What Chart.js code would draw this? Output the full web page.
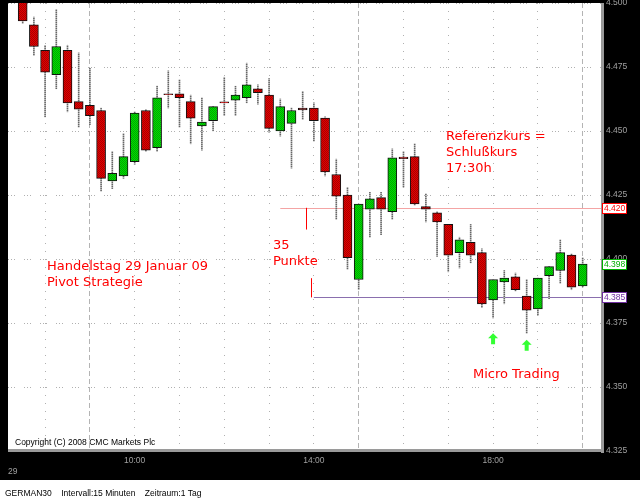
<!DOCTYPE html>
<html>
<head>
<meta charset="utf-8">
<script src="https://cdn.jsdelivr.net/npm/chart.js@4/dist/chart.umd.min.js"></script>
<style>
  html, body { margin: 0; padding: 0; background: #000; }
  canvas { display: block; }
</style>
</head>
<body>
<canvas id="dax" width="640" height="500"></canvas>
<script>
// GERMAN30, 15 minute candles, 29 Jan 2009
const times = ['07:30','07:45','08:00','08:15','08:30','08:45','09:00','09:15','09:30','09:45',
  '10:00','10:15','10:30','10:45','11:00','11:15','11:30','11:45','12:00','12:15',
  '12:30','12:45','13:00','13:15','13:30','13:45','14:00','14:15','14:30','14:45',
  '15:00','15:15','15:30','15:45','16:00','16:15','16:30','16:45','17:00','17:15',
  '17:30','17:45','18:00','18:15','18:30','18:45','19:00','19:15','19:30','19:45','20:00'];

const opens = [4503, 4491.5, 4481.5, 4472, 4481.5, 4461.5, 4460, 4458, 4430.5, 4432.5,
  4438, 4458, 4443.5, 4464.5, 4464.5, 4461.5, 4452, 4454, 4461.4, 4462,
  4463, 4466.5, 4464, 4450, 4453, 4459, 4459, 4455, 4433, 4425,
  4392, 4419.5, 4424, 4418.5, 4439.8, 4440, 4420.5, 4418, 4413.5, 4402.5,
  4406.5, 4402.5, 4384, 4391, 4393, 4385.5, 4380.5, 4393.5, 4395.5, 4401.5, 4389.5];
const highs = [4505, 4494.5, 4483.5, 4497.5, 4483.5, 4480.5, 4474.5, 4459, 4442, 4449,
  4457.5, 4458.5, 4467.5, 4473.5, 4470, 4464, 4463, 4459.5, 4471, 4467.5,
  4476.5, 4468, 4470.5, 4462.5, 4459, 4465.5, 4461, 4455.5, 4439, 4428,
  4421.5, 4426, 4426, 4443, 4442, 4445, 4425.5, 4418.5, 4413.5, 4408.5,
  4413.5, 4404, 4392, 4395.5, 4394.5, 4392, 4392.5, 4397, 4407.5, 4402, 4400.5];
const lows = [4492, 4479.5, 4455.5, 4466.5, 4457.5, 4451.5, 4452.5, 4426.5, 4427.5, 4431.5,
  4437, 4442, 4442, 4459, 4451.5, 4445, 4442.5, 4450, 4456, 4456,
  4461, 4460.5, 4449.5, 4448, 4435.5, 4454.5, 4446, 4432.5, 4415.5, 4396,
  4388, 4408.5, 4409.5, 4415.5, 4428, 4421, 4414.5, 4401, 4395, 4396.5,
  4398.5, 4381, 4377, 4382.5, 4387.5, 4371, 4378, 4384.5, 4390.5, 4388, 4389];
const closes = [4493, 4483, 4473, 4483, 4461, 4458.5, 4456, 4431.5, 4433.5, 4440,
  4457, 4442.5, 4463, 4464.2, 4463, 4455, 4453.5, 4459.5, 4461, 4464,
  4468, 4465, 4451, 4459.5, 4458, 4458.2, 4454, 4434, 4424.5, 4400.5,
  4421.5, 4423.5, 4419.5, 4439.5, 4439.2, 4421.5, 4419.5, 4414.5, 4401.5, 4407.5,
  4401.5, 4382.5, 4392, 4392.5, 4388, 4380, 4392.5, 4397, 4402.5, 4389, 4398];

const priceTicks = [4325, 4350, 4375, 4400, 4425, 4450, 4475, 4500];
const timeLabels = ['10:00', '14:00', '18:00'];
const sessionLines = ['09:00', '15:00', '20:00'];

// levels: Referenzkurs, last price, pivot
const refLevel = 4420, lastLevel = 4398, pivotLevel = 4385;
const refStart = '13:15', pivotStart = '14:00';
const arrowTimes = ['18:00', '18:45'];
const arrowTips = [4371, 4368.5];

function hour(t) {
  const p = t.split(':');
  return +p[0] + p[1] / 60;
}
function fmt(v) {
  return (v / 1000).toFixed(3);
}

const canvas = document.getElementById('dax');
const c2d = canvas.getContext('2d');

function hatch(a, b, w, h) {
  const c = document.createElement('canvas');
  c.width = w; c.height = h;
  const g = c.getContext('2d');
  g.fillStyle = a; g.fillRect(0, 0, w, h);
  g.fillStyle = b;
  if (w === 2) { g.fillRect(0, 0, 1, 1); g.fillRect(1, 1, 1, 1); }
  else g.fillRect(0, 1, 1, 1);
  return c2d.createPattern(c, 'repeat');
}
const redFill = hatch('#e40000', '#a80000', 2, 2);
const greenFill = hatch('#00e000', '#00a400', 2, 2);
const wickFill = hatch('#666666', '#b0b0b0', 1, 2);

const bodyData = times.map((t, i) => ({ x: hour(t), y: [opens[i], closes[i]] }));
const wickData = times.map((t, i) => ({ x: hour(t), y: [lows[i], highs[i]] }));
const bodyColors = times.map((t, i) => closes[i] >= opens[i] ? greenFill : redFill);

const smallFont = { family: 'Liberation Sans', size: 8.5 };

const frame = {
  id: 'frame',
  beforeDraw(chart) {
    const ctx = chart.ctx, a = chart.chartArea;
    ctx.save();
    ctx.fillStyle = '#000';
    ctx.fillRect(0, 0, chart.width, chart.height);
    ctx.fillStyle = '#fff';
    ctx.fillRect(a.left, a.top, a.right - a.left, a.bottom - a.top);
    ctx.fillRect(0, 480, chart.width, 20);
    ctx.restore();
  },
  beforeDatasetsDraw(chart) {
    const ctx = chart.ctx, a = chart.chartArea;
    const x = chart.scales.x, y = chart.scales.y;
    ctx.save();
    ctx.lineWidth = 1;
    ctx.strokeStyle = '#f4a4a4';
    let yy = Math.round(y.getPixelForValue(refLevel)) + 0.5;
    ctx.beginPath(); ctx.moveTo(x.getPixelForValue(hour(refStart)), yy); ctx.lineTo(a.right, yy); ctx.stroke();
    ctx.strokeStyle = '#8a6fae';
    yy = Math.round(y.getPixelForValue(pivotLevel)) + 0.5;
    ctx.beginPath(); ctx.moveTo(x.getPixelForValue(hour(pivotStart)), yy); ctx.lineTo(a.right, yy); ctx.stroke();
    ctx.restore();
  },
  afterDraw(chart) {
    const ctx = chart.ctx, a = chart.chartArea;
    const x = chart.scales.x, y = chart.scales.y;
    ctx.save();
    // plot border strips
    ctx.fillStyle = '#9a9a9a';
    ctx.fillRect(a.right, a.top, 3, a.bottom - a.top + 2);
    ctx.fillRect(a.left, a.bottom - 2, a.right - a.left + 3, 3);

    // 35 points markers
    ctx.strokeStyle = '#ff0000';
    ctx.lineWidth = 1;
    let mx = Math.round(x.getPixelForValue(13.82)) + 0.5;
    ctx.beginPath(); ctx.moveTo(mx, y.getPixelForValue(refLevel)); ctx.lineTo(mx, y.getPixelForValue(4411.5)); ctx.stroke();
    mx = Math.round(x.getPixelForValue(13.93)) + 0.5;
    ctx.beginPath(); ctx.moveTo(mx, y.getPixelForValue(4392.5)); ctx.lineTo(mx, y.getPixelForValue(pivotLevel)); ctx.stroke();

    // green arrows
    ctx.fillStyle = '#33ff33';
    arrowTimes.forEach((t, i) => {
      const cx = x.getPixelForValue(hour(t));
      const ty = y.getPixelForValue(arrowTips[i]);
      ctx.beginPath();
      ctx.moveTo(cx, ty);
      ctx.lineTo(cx + 5, ty + 5);
      ctx.lineTo(cx + 2, ty + 5);
      ctx.lineTo(cx + 2, ty + 11);
      ctx.lineTo(cx - 2, ty + 11);
      ctx.lineTo(cx - 2, ty + 5);
      ctx.lineTo(cx - 5, ty + 5);
      ctx.closePath();
      ctx.fill();
    });

    // annotations
    ctx.fillStyle = '#ff0000';
    ctx.font = '13px "DejaVu Sans"';
    ctx.textBaseline = 'alphabetic';
    ctx.textAlign = 'left';
    ctx.fillText('Referenzkurs =', 446, 140);
    ctx.fillText('Schlußkurs', 446, 156);
    ctx.fillText('17:30h', 446, 172);
    ctx.fillText('Handelstag 29 Januar 09', 47, 270);
    ctx.fillText('Pivot Strategie', 47, 286);
    ctx.fillText('35', 273, 249);
    ctx.fillText('Punkte', 273, 265);
    ctx.fillText('Micro Trading', 473, 378);

    ctx.fillStyle = '#000';
    ctx.font = '8.5px "Liberation Sans"';
    ctx.fillText('Copyright (C) 2008 CMC Markets Plc', 15, 445);
    ctx.fillText('GERMAN30    Intervall:15 Minuten    Zeitraum:1 Tag', 5, 496);
    ctx.fillStyle = '#a0a0a0';
    ctx.fillText('29', 8, 474);

    // level boxes on the price axis
    const boxes = [[refLevel, '#ff0000'], [lastLevel, '#00b000'], [pivotLevel, '#7030a0']];
    boxes.forEach(b => {
      const by = Math.round(y.getPixelForValue(b[0]));
      ctx.fillStyle = '#fff';
      ctx.fillRect(602, by - 5, 25, 11);
      ctx.strokeStyle = b[1];
      ctx.strokeRect(602.5, by - 4.5, 24, 10);
      ctx.fillStyle = b[1];
      ctx.textBaseline = 'middle';
      ctx.fillText(fmt(b[0]), 604, by + 1);
    });
    ctx.restore();
  }
};

new Chart(canvas, {
  type: 'bar',
  data: {
    datasets: [{
      label: 'Body',
      data: bodyData,
      backgroundColor: bodyColors,
      borderColor: '#111',
      borderWidth: 1,
      borderSkipped: false,
      barThickness: 9,
      grouped: false,
      order: 1
    }, {
      label: 'Wick',
      data: wickData,
      backgroundColor: wickFill,
      borderWidth: 0,
      barThickness: 1,
      grouped: false,
      order: 2
    }]
  },
  options: {
    responsive: false,
    animation: false,
    layout: { padding: { left: 8, top: 3, right: 0, bottom: 0 } },
    plugins: { legend: { display: false }, tooltip: { enabled: false } },
    scales: {
      x: {
        type: 'linear',
        min: 7.172,
        max: 20.409,
        offset: false,
        afterFit: s => { s.height = 49; s.paddingLeft = 0; s.paddingRight = 0; },
        grid: {
          offset: false,
          drawTicks: false,
          color: ctx => ctx.tick && sessionLines.map(hour).includes(ctx.tick.value) ? '#b4b4b4' : '#b0b0b0'
        },
        border: {
          display: false,
          dash: ctx => ctx.tick && sessionLines.map(hour).includes(ctx.tick.value) ? [5, 3] : [1, 7]
        },
        ticks: {
          stepSize: 1,
          maxTicksLimit: 20,
          includeBounds: false,
          autoSkip: false,
          maxRotation: 0,
          padding: 5,
          color: '#a0a0a0',
          font: smallFont,
          callback: v => {
            const lab = timeLabels.find(t => hour(t) === v);
            return lab || '';
          }
        }
      },
      y: {
        position: 'right',
        min: priceTicks[0],
        max: priceTicks[priceTicks.length - 1],
        afterFit: s => { s.width = 39; s.paddingTop = 0; s.paddingBottom = 0; },
        grid: { drawTicks: false, color: '#b0b0b0' },
        border: { display: false, dash: [1, 2, 1, 2, 1, 9] },
        ticks: {
          stepSize: 25,
          padding: 5,
          color: '#a0a0a0',
          font: smallFont,
          callback: v => priceTicks.includes(v) ? fmt(v) : ''
        }
      }
    }
  },
  plugins: [frame]
});
</script>
</body>
</html>
